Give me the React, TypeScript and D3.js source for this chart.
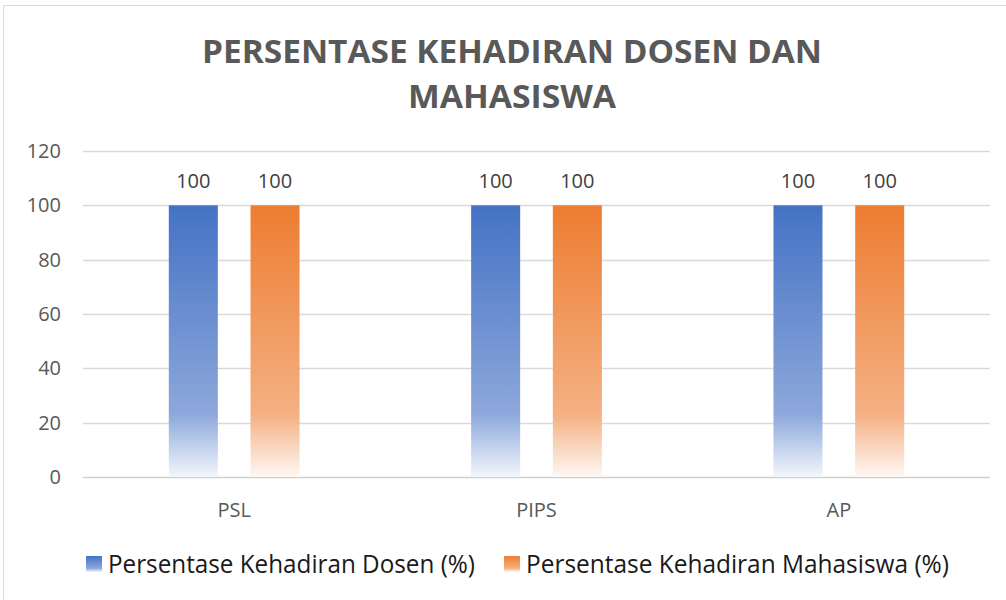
import { useRef, useEffect } from 'react';
import * as d3 from 'd3';

const categories = ['PSL', 'PIPS', 'AP'];
const seriesNames = ['Persentase Kehadiran Dosen (%)', 'Persentase Kehadiran Mahasiswa (%)'];
const dosenValues = [100, 100, 100];
const mahasiswaValues = [100, 100, 100];
const yTicks = [0, 20, 40, 60, 80, 100, 120];
const titleLines = ['PERSENTASE KEHADIRAN DOSEN DAN', 'MAHASISWA'];

const App = () => {
    const svgRef = useRef<SVGSVGElement | null>(null);

    useEffect(() => {
        document.body.style.margin = '0';
        const svgElement = svgRef.current;
        if (!svgElement) return;

        const width = 1006;
        const height = 600;
        const margin = { top: 151, right: 16, bottom: 123, left: 83 };
        const font = "'Open Sans', 'Noto Sans', sans-serif";

        const svg = d3.select(svgElement)
            .attr('width', width)
            .attr('height', height);

        svg.selectAll('*').remove();

        // chart area background + border (extends past the picture on right/bottom)
        svg.append('rect')
            .attr('x', 3.5)
            .attr('y', 5.5)
            .attr('width', width + 20)
            .attr('height', height + 20)
            .attr('fill', '#fff')
            .attr('stroke', '#d9d9d9')
            .attr('stroke-width', 1);

        const colors = [
            ['#4472C4', '#8DA8DB', '#F3F6FC'],
            ['#ED7D31', '#F4B083', '#FEF8F3']
        ];

        const defs = svg.append('defs');
        colors.forEach((c, i) => {
            const g = defs.append('linearGradient')
                .attr('id', `grad${i}`)
                .attr('x1', 0).attr('y1', 0)
                .attr('x2', 0).attr('y2', 1);
            g.append('stop').attr('offset', '0%').attr('stop-color', c[0]);
            g.append('stop').attr('offset', '77%').attr('stop-color', c[1]);
            g.append('stop').attr('offset', '100%').attr('stop-color', c[2]);
        });

        // title
        titleLines.forEach((line, i) => {
            svg.append('text')
                .attr('x', 512)
                .attr('y', 63 + i * 45)
                .attr('text-anchor', 'middle')
                .attr('textLength', i === 0 ? 620 : 208)
                .attr('lengthAdjust', 'spacingAndGlyphs')
                .style('font-family', font)
                .style('font-weight', 'bold')
                .style('font-size', '32px')
                .style('fill', '#595959')
                .text(line);
        });

        const x = d3.scaleBand()
            .domain(categories)
            .range([margin.left, width - margin.right]);

        const xInner = d3.scaleBand()
            .domain(['0', '1'])
            .range([0, x.bandwidth()])
            .paddingInner(0.4)
            .paddingOuter(1.05);

        const y = d3.scaleLinear()
            .domain([0, 120])
            .range([height - margin.bottom, margin.top]);

        // gridlines
        svg.append('g')
            .selectAll('line')
            .data(yTicks)
            .join('line')
            .attr('x1', margin.left)
            .attr('x2', width - margin.right)
            .attr('y1', d => Math.round(y(d)) + 0.5)
            .attr('y2', d => Math.round(y(d)) + 0.5)
            .attr('stroke', d => d === 0 ? '#cfcfcf' : '#d9d9d9')
            .attr('stroke-width', 1.5);

        // y labels
        svg.append('g')
            .selectAll('text')
            .data(yTicks)
            .join('text')
            .attr('x', 61)
            .attr('y', d => y(d) + 7)
            .attr('text-anchor', 'end')
            .style('font-family', font)
            .style('font-size', '20px')
            .style('fill', '#595959')
            .text(d => d);

        // x labels
        svg.append('g')
            .selectAll('text')
            .data(categories)
            .join('text')
            .attr('x', d => (x(d) as number) + x.bandwidth() / 2)
            .attr('y', 517)
            .attr('text-anchor', 'middle')
            .style('font-family', font)
            .style('font-size', '20px')
            .style('fill', '#595959')
            .text(d => d);

        const series = [dosenValues, mahasiswaValues];
        series.forEach((values, si) => {
            const g = svg.append('g');
            g.selectAll('rect')
                .data(values)
                .join('rect')
                .attr('x', (_, i) => (x(categories[i]) as number) + (xInner(String(si)) as number))
                .attr('y', d => y(d))
                .attr('width', xInner.bandwidth())
                .attr('height', d => y(0) - y(d))
                .attr('fill', `url(#grad${si})`);

            g.selectAll('text')
                .data(values)
                .join('text')
                .attr('x', (_, i) => (x(categories[i]) as number) + (xInner(String(si)) as number) + xInner.bandwidth() / 2)
                .attr('y', d => y(d) - 17)
                .attr('text-anchor', 'middle')
                .style('font-family', font)
                .style('font-size', '20px')
                .style('fill', '#404040')
                .text(d => d);
        });

        // legend
        const legendX = [86, 504];
        const legendW = [367, 423];
        seriesNames.forEach((name, i) => {
            const lg = svg.append('g');
            lg.append('rect')
                .attr('x', legendX[i])
                .attr('y', 556)
                .attr('width', 16)
                .attr('height', 16)
                .attr('fill', `url(#grad${i})`);
            lg.append('text')
                .attr('x', legendX[i] + 22)
                .attr('y', 573)
                .attr('textLength', legendW[i])
                .attr('lengthAdjust', 'spacingAndGlyphs')
                .style('font-family', font)
                .style('font-size', '25px')
                .style('fill', '#1a1a1a')
                .text(name);
        });
    }, []);

    return (
        <div style={{ width: 1006, height: 600 }}>
            <svg ref={svgRef} style={{ display: 'block' }}></svg>
        </div>
    );
};

export default App;
